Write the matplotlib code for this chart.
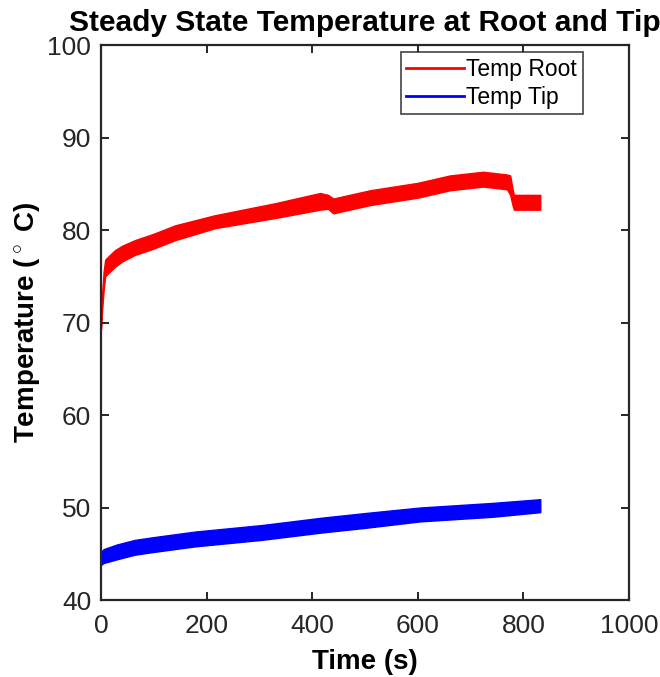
import matplotlib
matplotlib.use("Agg")
import matplotlib.pyplot as plt
from matplotlib.lines import Line2D

# values (time in s, temperature band in deg C)
root_t = [0, 2, 5, 8, 15, 26, 40, 64, 100, 140, 216, 330, 415, 430, 440,
          455, 510, 600, 661, 724, 769, 775, 779, 782, 800, 832]
root_lo = [69.3, 71.2, 73.5, 75.0, 75.4, 76.0, 76.6, 77.3, 78.0, 78.9, 80.2,
           81.3, 82.2, 82.3, 81.8, 82.0, 82.7, 83.5, 84.3, 84.7, 84.4, 83.8,
           82.8, 82.2, 82.2, 82.2]
root_hi = [70.3, 73.0, 75.5, 76.8, 77.2, 77.8, 78.3, 78.9, 79.6, 80.5, 81.6,
           82.9, 84.0, 83.8, 83.4, 83.6, 84.3, 85.1, 85.9, 86.3, 86.0, 85.9,
           84.6, 83.8, 83.8, 83.8]

tip_t = [0, 5, 30, 64, 100, 178, 304, 418, 500, 604, 742, 832]
tip_lo = [43.8, 44.0, 44.4, 44.9, 45.2, 45.8, 46.5, 47.3, 47.8, 48.5, 49.0, 49.5]
tip_hi = [45.2, 45.5, 46.0, 46.5, 46.8, 47.4, 48.1, 48.9, 49.4, 50.0, 50.5, 50.9]

x_ticks = [0, 200, 400, 600, 800, 1000]
y_ticks = [40, 50, 60, 70, 80, 90, 100]

plt.rcParams['font.family'] = ['Liberation Sans', 'DejaVu Sans']
plt.rcParams['mathtext.fontset'] = 'custom'
plt.rcParams['mathtext.rm'] = 'Liberation Sans'

fig = plt.figure(figsize=(6.6, 6.77), dpi=100)
ax = fig.add_axes([0.153, 0.1137, 0.8, 0.8198])

red = '#ff0000'
blue = '#0000ff'

ax.fill_between(root_t, root_lo, root_hi, color=red, lw=1.0, edgecolor=red)
ax.fill_between(tip_t, tip_lo, tip_hi, color=blue, lw=1.0, edgecolor=blue)

ax.set_xlim(0, 1000)
ax.set_ylim(40, 100)
ax.set_xticks(x_ticks)
ax.set_yticks(y_ticks)

edge = '#262626'
for s in ax.spines.values():
    s.set_color(edge)
    s.set_linewidth(1.6)
ax.tick_params(direction='in', top=True, right=True, length=6, width=1.4,
               color=edge, labelsize=19, labelcolor='#262626')
ax.tick_params(axis='y', pad=7)
ax.tick_params(axis='x', pad=10)

ax.set_xlabel('Time (s)', fontsize=20, fontweight='bold', labelpad=8)
ax.set_ylabel(r'Temperature ($^\circ$ C)', fontsize=20, fontweight='bold',
              labelpad=3)
ax.set_title('Steady State Temperature at Root and Tip', fontsize=21.5,
             fontweight='bold', pad=10)

handles = [Line2D([], [], color=red, lw=2), Line2D([], [], color=blue, lw=2)]
leg = ax.legend(handles, ['Temp Root', 'Temp Tip'], loc='upper right',
                bbox_to_anchor=(0.912, 0.987), fontsize=16.5, frameon=True,
                fancybox=False, handlelength=2.5, handletextpad=0.1,
                borderpad=0.25, labelspacing=0.2, borderaxespad=0)
leg.get_frame().set_edgecolor(edge)
leg.get_frame().set_linewidth(1.3)

fig.savefig('out.png', dpi=100, facecolor='white')
